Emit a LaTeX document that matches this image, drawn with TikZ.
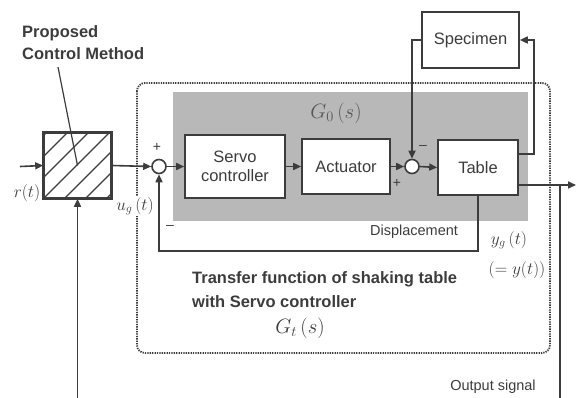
\documentclass[tikz,border=0pt]{standalone}
\usepackage{fontspec}
\setmainfont{Liberation Sans}
\usetikzlibrary{positioning,arrows.meta,calc}
\definecolor{inkgray}{RGB}{60,60,60}
\definecolor{shadegray}{RGB}{184,184,184}

\tikzset{
  blk/.style={draw=inkgray, line width=1.6pt, fill=white, text=inkgray, align=center,
    inner sep=0pt, font=\fontsize{16.5}{19}\selectfont},
  sumpt/.style={circle, draw=inkgray, line width=1.6pt, fill=white, minimum size=14pt, inner sep=0pt},
  wire/.style={draw=inkgray, line width=1.6pt},
  sig/.style={wire, -{Triangle[length=8pt,width=7pt]}},
  lbl/.style={text=inkgray, inner sep=0pt, font=\fontsize{14.5}{17}\selectfont},
  sgn/.style={text=inkgray, inner sep=0pt, font=\fontsize{14}{16}\selectfont},
  mlbl/.style={text=inkgray, inner sep=0pt, font=\fontsize{17.5}{20}\selectfont},
}

\begin{document}
\begin{tikzpicture}[x=1pt, y=-1pt]
  \useasboundingbox (0,0) rectangle (577,398);

  % servo loop frame and the plant area G0
  \draw[inkgray, line width=1.8pt, dash pattern=on 1.3pt off 1.1pt, rounded corners=8pt]
    (137,83) rectangle (550,353);
  \fill[shadegray] (173,92) rectangle (528,221);
  \node[mlbl, text=inkgray!85, font=\fontsize{21}{23}\selectfont] (g0) at (336,113) {$G_0\,(s)$};

  % blocks
  \node[blk, minimum width=67pt, minimum height=65pt] (ctrl) at (77.5,165.5) {};
  \begin{scope}
    \clip (ctrl.south west) rectangle (ctrl.north east);
    \foreach \d in {-63,-42,...,70}
      \draw[inkgray, line width=1.3pt] ($(ctrl.south west)+(\d,0)$) -- ++(75,-75);
  \end{scope}
  \draw[wire] (ctrl.south west) rectangle (ctrl.north east);

  \node[sumpt] (sum1) at (159,166.5) {};
  \node[blk, minimum width=100pt, minimum height=63pt] (servo) at (235,166.5) {Servo\\controller};
  \node[blk, minimum width=88pt, minimum height=55pt] (act) at (346,166.5) {Actuator};
  \node[sumpt] (sum2) at (412,166.5) {};
  \node[blk, minimum width=80pt, minimum height=55pt] (table) at (478,167.5) {Table};
  \node[blk, minimum width=97pt, minimum height=56pt] (spec) at (470.5,40) {Specimen};

  % free ends
  \coordinate (rin) at (20,166.5);
  \coordinate (yout) at (576,185);
  \coordinate (tap) at (560,185);
  \coordinate (sigend) at (560,398);
  \coordinate (retin) at (77.5,398);

  % signal paths
  \draw[sig] (rin) -- (ctrl.west);
  \draw[sig] (ctrl.east) -- (sum1.west);
  \draw[sig] (sum1.east) -- (servo.west);
  \draw[sig] (servo.east) -- (act.west);
  \draw[sig] (act.east) -- (sum2.west);
  \draw[sig] (sum2.east) -- (table.west);
  \draw[sig] (spec.west) -| (sum2.north);
  \draw[sig] ([yshift=13.5pt]table.east) -- ++(15,0) |- (spec.east);
  \draw[sig] ([yshift=-17.5pt]table.east) -- (yout);
  \draw[wire] (tap) -- (sigend);
  \draw[sig] (table.south) -- ++(0,55) -| (sum1.south);
  \draw[sig] (retin) -- (ctrl.south);

  % signs at the junctions
  \node[sgn] (p1) at (157,147) {+};
  \node[sgn] (m1) at (170,227) {\textendash};
  \node[sgn] (m2) at (423,147) {\textendash};
  \node[sgn] (p2) at (397,183) {+};

  % labels
  \node[text=inkgray, align=left, inner sep=0pt, font=\bfseries\fontsize{16.5}{22}\selectfont,
    anchor=north west] (pcm) at (22,25) {Proposed\\Control Method};
  \draw[wire, line width=1.2pt] (58,67) -- (ctrl.center);
  \node[mlbl] (rlbl) at (27,193) {$r(t)$};
  \node[mlbl, fill=white, inner sep=1pt] (ulbl) at (135,206) {$u_g\,(t)$};
  \node[lbl] (disp) at (414,232) {Displacement};
  \node[mlbl] (ylbl) at (509,240) {$y_g\,(t)$};
  \node[mlbl] (yeq) at (517,270) {$(=y(t))$};
  \node[text=inkgray, align=left, inner sep=0pt, font=\bfseries\fontsize{16.5}{24}\selectfont,
    anchor=west] (tf) at (192,290) {Transfer function of shaking table\\with Servo controller};
  \node[mlbl, font=\fontsize{22}{24}\selectfont] (gt) at (300,328) {$G_t\,(s)$};
  \node[lbl] (osig) at (493,387) {Output signal};
\end{tikzpicture}
\end{document}
